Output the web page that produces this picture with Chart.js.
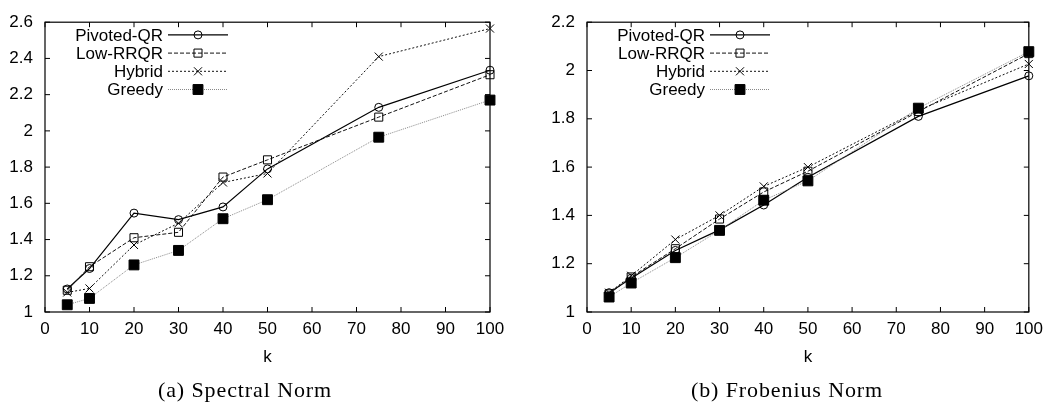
<!DOCTYPE html>
<html>
<head>
<meta charset="utf-8">
<script src="https://cdn.jsdelivr.net/npm/chart.js@4/dist/chart.umd.min.js"></script>
<style>
  html, body { margin:0; padding:0; background:#fff; }
  #wrap { position:relative; width:1050px; height:406px; overflow:hidden; }
  .cell { position:absolute; top:0; width:525px; height:406px; }
  .cap { position:absolute; top:377px; font-family:"Liberation Serif","Times New Roman",serif; font-size:22px; letter-spacing:0.9px; color:#000; white-space:nowrap; transform:translateX(-50%); }
</style>
</head>
<body>
<div id="wrap">
  <div class="cell" style="left:0"><canvas id="c1" width="525" height="406"></canvas></div>
  <div class="cell" style="left:525px"><canvas id="c2" width="525" height="406"></canvas></div>
  <div class="cap" style="left:245px">(a) Spectral Norm</div>
  <div class="cap" style="left:787px">(b) Frobenius Norm</div>
</div>
<script>
// ---- data ----
const kValues = [5, 10, 20, 30, 40, 50, 75, 100];
const seriesNames = ['Pivoted-QR', 'Low-RRQR', 'Hybrid', 'Greedy'];

const spectralPivoted = [1.127, 1.24, 1.546, 1.51, 1.58, 1.79, 2.13, 2.335];
const spectralLowRRQR = [1.12, 1.25, 1.41, 1.44, 1.745, 1.84, 2.076, 2.31];
const spectralHybrid  = [1.108, 1.13, 1.37, 1.49, 1.715, 1.765, 2.41, 2.565];
const spectralGreedy  = [1.04, 1.075, 1.26, 1.34, 1.515, 1.62, 1.965, 2.17];

const frobPivoted = [1.08, 1.14, 1.255, 1.34, 1.443, 1.558, 1.81, 1.978];
const frobLowRRQR = [1.075, 1.145, 1.262, 1.385, 1.497, 1.583, 1.83, 2.07];
const frobHybrid  = [1.08, 1.15, 1.30, 1.40, 1.52, 1.60, 1.835, 2.027];
const frobGreedy  = [1.062, 1.12, 1.225, 1.338, 1.463, 1.543, 1.844, 2.078];

const xTickValues = [0, 10, 20, 30, 40, 50, 60, 70, 80, 90, 100];
const xTickLabels = ['0', '10', '20', '30', '40', '50', '60', '70', '80', '90', '100'];
const yTickValuesA = [1, 1.2, 1.4, 1.6, 1.8, 2, 2.2, 2.4, 2.6];
const yTickLabelsA = ['1', '1.2', '1.4', '1.6', '1.8', '2', '2.2', '2.4', '2.6'];
const yTickValuesB = [1, 1.2, 1.4, 1.6, 1.8, 2, 2.2];
const yTickLabelsB = ['1', '1.2', '1.4', '1.6', '1.8', '2', '2.2'];
const xTitle = 'k';

// ---- styles ----
const FONT = '"Liberation Sans", Arial, Helvetica, sans-serif';
const styles = [
  { color: '#000', width: 1.2, dash: [], marker: 'circle', radius: 4, fill: 'rgba(0,0,0,0)' },
  { color: '#111', width: 1, dash: [4, 2], marker: 'rect', radius: 5.7, fill: 'rgba(0,0,0,0)' },
  { color: '#111', width: 1, dash: [2, 2], marker: 'crossRot', radius: 5.7, fill: 'rgba(0,0,0,0)' },
  { color: '#888', width: 1, dash: [1, 1], marker: 'rect', radius: 7, fill: '#000', markerStroke: '#000' }
];

function makeDatasets(arrs) {
  return arrs.map((vals, i) => {
    const s = styles[i];
    return {
      label: seriesNames[i],
      data: kValues.map((k, j) => ({ x: k, y: vals[j] })),
      borderColor: s.color,
      borderWidth: s.width,
      borderDash: s.dash,
      pointStyle: s.marker,
      pointRadius: s.radius,
      pointHoverRadius: s.radius,
      pointBorderColor: s.markerStroke || '#000',
      pointBackgroundColor: s.fill,
      pointBorderWidth: 1,
      fill: false,
      tension: 0,
      clip: false,
      order: 4 - i
    };
  });
}

function drawMarker(ctx, style, r, x, y, fill, stroke) {
  ctx.save();
  ctx.setLineDash([]);
  ctx.lineWidth = 1;
  ctx.strokeStyle = stroke;
  ctx.fillStyle = fill;
  ctx.beginPath();
  if (style === 'circle') {
    ctx.arc(x, y, r, 0, Math.PI * 2);
    ctx.fill(); ctx.stroke();
  } else if (style === 'rect') {
    const s = r * Math.SQRT1_2;
    ctx.rect(x - s, y - s, 2 * s, 2 * s);
    ctx.fill(); ctx.stroke();
  } else if (style === 'crossRot') {
    const s = r * Math.SQRT1_2;
    ctx.moveTo(x - s, y - s); ctx.lineTo(x + s, y + s);
    ctx.moveTo(x - s, y + s); ctx.lineTo(x + s, y - s);
    ctx.stroke();
  }
  ctx.restore();
}

const gnuplotFrame = {
  id: 'gnuplotFrame',
  afterDatasetsDraw(chart) {
    const { ctx, chartArea: a, scales } = chart;
    ctx.save();
    ctx.strokeStyle = '#000';
    ctx.lineWidth = 1.2;
    ctx.setLineDash([]);
    ctx.strokeRect(a.left, a.top, a.right - a.left, a.bottom - a.top);
    const tl = 5;
    ctx.lineWidth = 1;
    ctx.beginPath();
    scales.x.ticks.forEach(t => {
      const px = scales.x.getPixelForValue(t.value);
      ctx.moveTo(px, a.bottom); ctx.lineTo(px, a.bottom - tl);
      ctx.moveTo(px, a.top); ctx.lineTo(px, a.top + tl);
    });
    scales.y.ticks.forEach(t => {
      const py = scales.y.getPixelForValue(t.value);
      ctx.moveTo(a.left, py); ctx.lineTo(a.left + tl, py);
      ctx.moveTo(a.right, py); ctx.lineTo(a.right - tl, py);
    });
    ctx.stroke();

    // key (legend) in gnuplot style
    ctx.font = '17px ' + FONT;
    ctx.fillStyle = '#000';
    ctx.textAlign = 'right';
    ctx.textBaseline = 'middle';
    chart.data.datasets.forEach((ds, i) => {
      const s = styles[i];
      const y = a.top + 12.7 + i * 18.2;
      ctx.fillText(ds.label, a.left + 118, y + 1);
      ctx.save();
      ctx.strokeStyle = s.color;
      ctx.lineWidth = s.width;
      ctx.setLineDash(s.dash);
      ctx.beginPath();
      ctx.moveTo(a.left + 123, y);
      ctx.lineTo(a.left + 183, y);
      ctx.stroke();
      ctx.restore();
      drawMarker(ctx, s.marker, s.radius, a.left + 153, y, s.fill, s.markerStroke || '#000');
    });
    ctx.restore();
  }
};

function makeChart(id, arrs, yVals, yLabels, yMax, yWidth, padRight) {
  return new Chart(document.getElementById(id), {
    type: 'line',
    data: { datasets: makeDatasets(arrs) },
    options: {
      responsive: false,
      animation: false,
      events: [],
      layout: { padding: { top: 13, right: padRight, left: 0, bottom: 0 } },
      plugins: { legend: { display: false }, tooltip: { enabled: false }, title: { display: false } },
      scales: {
        x: {
          type: 'linear', min: 0, max: 100,
          grid: { display: false, drawTicks: false },
          border: { display: false },
          afterBuildTicks: sc => { sc.ticks = xTickValues.map(v => ({ value: v })); },
          afterFit: sc => { sc.height = 94; },
          ticks: {
            padding: 7, color: '#000', maxRotation: 0, autoSkip: false,
            font: { family: FONT, size: 17 },
            callback: (v) => { const i = xTickValues.indexOf(v); return i >= 0 ? xTickLabels[i] : ''; }
          },
          title: { display: true, text: xTitle, color: '#000', font: { family: FONT, size: 17 }, padding: { top: 0, bottom: 38 } }
        },
        y: {
          type: 'linear', min: 1, max: yMax,
          grid: { display: false, drawTicks: false },
          border: { display: false },
          afterBuildTicks: sc => { sc.ticks = yVals.map(v => ({ value: v })); },
          afterFit: sc => { sc.width = yWidth; },
          ticks: {
            padding: 12, color: '#000', autoSkip: false,
            font: { family: FONT, size: 17 },
            callback: (v) => { const i = yVals.findIndex(t => Math.abs(t - v) < 1e-9); return i >= 0 ? yLabels[i] : ''; }
          }
        }
      }
    },
    plugins: [gnuplotFrame]
  });
}

makeChart('c1', [spectralPivoted, spectralLowRRQR, spectralHybrid, spectralGreedy], yTickValuesA, yTickLabelsA, 2.6, 45, 35);
makeChart('c2', [frobPivoted, frobLowRRQR, frobHybrid, frobGreedy], yTickValuesB, yTickLabelsB, 2.2, 62, 18);
</script>
</body>
</html>
